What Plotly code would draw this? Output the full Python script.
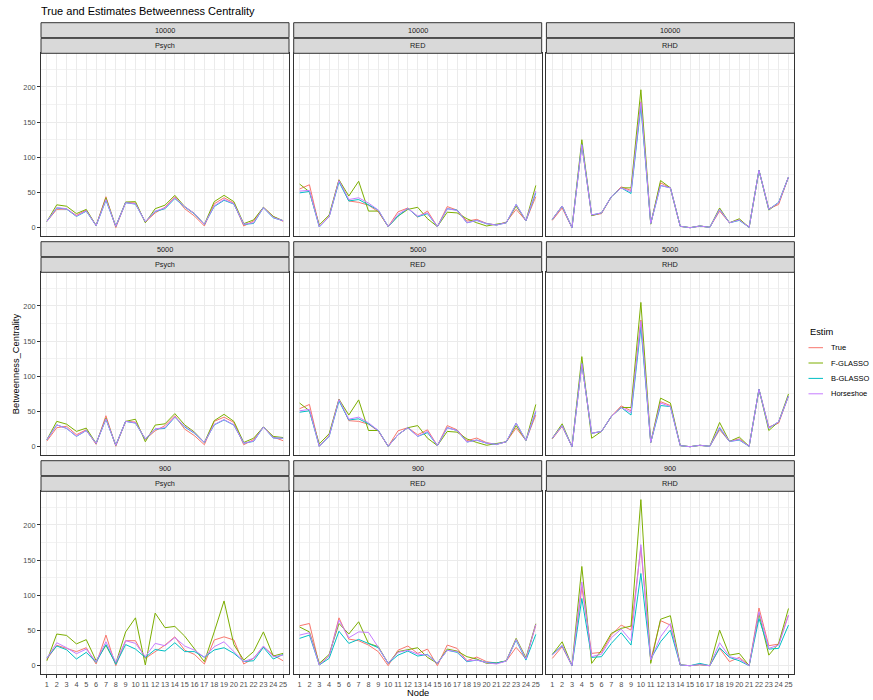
import plotly.graph_objects as go

# ---------------------------------------------------------------------------
# Data: betweenness centrality per node, for each sample size x dataset panel
# ---------------------------------------------------------------------------
nodes = list(range(1, 26))
node_labels = [str(n) for n in nodes]

estimators = ["True", "F-GLASSO", "B-GLASSO", "Horseshoe"]
estimator_colors = ["#F8766D", "#7CAE00", "#00BFC4", "#C77CFF"]

sample_sizes = ["10000", "5000", "900"]
datasets = ["Psych", "RED", "RHD"]

# ---- n = 10000 ----
psych_10000_true = [9, 26, 26.5, 17.5, 25, 3, 44, 0, 36, 35, 8, 21, 29, 44, 27, 16.5, 2.4, 34, 42.5, 35, 2.4, 9.4, 29, 16, 9]
psych_10000_fglasso = [9, 32.5, 30.5, 20, 26, 3, 42.5, 2, 36.5, 37, 7, 27, 32, 46, 30, 20, 4.7, 37, 46, 37, 5.7, 11, 29, 16, 10]
psych_10000_bglasso = [9, 28, 26.5, 16, 23.5, 3, 39, 2, 35.5, 33.5, 8.5, 23, 27, 41.5, 29.5, 19.5, 4.7, 30, 39, 33.5, 4.7, 6, 28.5, 14, 10]
psych_10000_horseshoe = [9, 28.5, 27, 16.5, 24, 3, 40, 2, 35.5, 34, 8.5, 23.5, 28, 42.5, 30, 20, 4.7, 31, 40, 34, 5, 7, 28.5, 14.5, 10]

red_10000_true = [55, 61, 1.5, 16, 68, 38, 36, 32, 22.6, 1.5, 22.6, 28, 15, 23.6, 1.5, 30, 25, 9.4, 11.8, 6.1, 3.8, 8, 26, 10, 44]
red_10000_fglasso = [62, 51, 4, 18, 68, 45, 66, 23.6, 23.6, 1.5, 16.5, 26, 29, 12.7, 1.5, 22, 21, 12.7, 7, 2.4, 5, 7, 30.7, 10, 60]
red_10000_bglasso = [49.5, 51.5, 1, 15.5, 65, 38, 40, 33, 25, 1.5, 16.5, 27.4, 15.5, 20, 1.5, 27, 25, 7, 10.4, 5.7, 3.8, 7, 33, 10, 49.5]
red_10000_horseshoe = [52, 53, 1.5, 15.5, 67, 40, 42.5, 35, 25, 1.5, 19, 27.4, 16.5, 21, 1.5, 27, 24.5, 7, 10.4, 5.7, 3.8, 7, 33, 10, 52]

rhd_10000_true = [10.4, 28, 0, 118, 17.5, 20, 44, 58, 53, 179, 6, 63.7, 56.6, 2, 0, 2.4, 0.5, 23.6, 7, 11.3, 0.5, 81.6, 27, 33, 72]
rhd_10000_fglasso = [11.8, 30.7, 0, 125, 17, 21, 44, 56.6, 56.6, 196, 5, 67, 56.6, 2, 0, 2.4, 0.5, 28, 7, 12.7, 0.5, 81.6, 25, 35.4, 72]
rhd_10000_bglasso = [11.8, 30.7, 0, 118, 18, 21, 44, 56.6, 48.6, 172, 6, 60, 56.6, 2, 0, 2.4, 0.5, 26, 7, 10.4, 0.5, 81.6, 26, 36, 72]
rhd_10000_horseshoe = [11.8, 30.7, 0, 118, 18, 21, 44, 56.6, 51, 178, 6, 60, 56.6, 2, 0, 2.4, 0.5, 26, 7, 11, 0.5, 81.6, 26, 35.4, 72]

# ---- n = 5000 ----
psych_5000_true = [8, 27, 29, 17, 24, 3.3, 44, 0.5, 36, 35, 10.4, 22.6, 30, 44, 25, 15.6, 2.8, 36, 42, 34.4, 2.8, 10, 28, 13.7, 8.5]
psych_5000_fglasso = [10, 36, 32, 21.7, 26.4, 4.7, 40.6, 2, 36, 39, 7, 30.7, 32.5, 47, 31, 20.7, 6, 37, 46, 36, 6, 12, 28, 14.6, 13]
psych_5000_bglasso = [10, 31, 26, 14.6, 23, 4.7, 39, 2, 36, 33.5, 10.8, 25, 26, 42, 28, 19, 6, 31, 38, 30.7, 5, 7.5, 28, 12.3, 12]
psych_5000_horseshoe = [10, 31, 26, 15, 23, 4.7, 39.5, 2, 36, 34, 10.8, 25.5, 27, 42.5, 29, 19.5, 6, 31.5, 38.5, 31, 5, 8, 28, 12.5, 12]

red_5000_true = [54, 60, 0.5, 16, 67.5, 37, 36, 32, 22, 0.5, 22.6, 27, 17, 24, 1.5, 30, 24, 8.5, 12.3, 5.7, 3.3, 7, 26.4, 9, 45]
red_5000_fglasso = [62, 51, 4, 18.4, 67.5, 45, 66.5, 23, 23, 0.5, 17, 27, 30, 12, 1.5, 21.7, 20.7, 11, 6, 2, 4.5, 7, 30, 9, 60]
red_5000_bglasso = [49, 51, 0.5, 14.6, 65, 38, 39.6, 32.5, 23, 0.5, 17, 27, 14.6, 20, 1.5, 27, 23, 6.6, 9.4, 5, 3.3, 7, 33.5, 9, 49.5]
red_5000_horseshoe = [51, 53, 0.5, 15, 67, 39, 42, 34, 23, 0.5, 17, 27, 14.6, 21.7, 1.5, 27, 23, 6.6, 9.4, 5, 3.3, 7, 33.5, 9, 51]

rhd_5000_true = [11, 29, 0, 118, 19, 21.7, 43, 58, 51, 180, 6, 64, 58.5, 1.5, 0, 2, 0.5, 24, 7.5, 11, 0.5, 81.6, 28, 33.5, 72]
rhd_5000_fglasso = [12, 32.5, 0, 128, 12, 21.7, 43, 55.7, 55.7, 205, 6, 69, 62, 1.5, 0, 2, 0.5, 34.4, 7.5, 13.7, 0.5, 81.6, 23, 35.4, 75]
rhd_5000_bglasso = [12, 30, 0, 118, 19, 21.7, 43, 55.7, 45, 170, 6, 58.5, 57, 1.5, 0, 2, 0.5, 26.4, 7.5, 9.4, 0.5, 81.6, 26.4, 35.4, 72]
rhd_5000_horseshoe = [12, 30, 0, 118, 19, 21.7, 43, 55.7, 48.6, 178, 6, 62, 57, 1.5, 0, 2, 0.5, 28, 7.5, 10, 0.5, 81.6, 26.4, 35.4, 72]

# ---- n = 900 ----
psych_900_true = [9, 29, 24.6, 20, 25.5, 2.4, 43.5, 0, 35.5, 35.5, 10.4, 20, 29.3, 41, 22, 16, 2.4, 36.5, 41, 36.5, 2.4, 10.5, 27, 15, 7]
psych_900_fglasso = [7, 45, 43, 31, 37, 7, 29, 3.3, 48, 68, 1, 74.7, 54, 55.8, 42, 24.6, 5.7, 48, 92, 30, 8, 20, 48, 13.7, 17.5]
psych_900_bglasso = [11, 28, 22.7, 9.5, 19, 4.7, 30, 2, 30, 23.6, 11.8, 23, 20.8, 32.6, 20, 20, 12, 22.3, 25.5, 17.6, 6, 7, 26, 9.5, 16]
psych_900_horseshoe = [10.4, 32.6, 25.5, 17, 23.6, 5.7, 34, 4.7, 35.5, 31.7, 12.8, 31.7, 28.4, 40, 28, 22, 12, 27, 34, 20, 6, 10.5, 28, 12.8, 15]

red_900_true = [56.7, 60, 1, 13.7, 68, 37.8, 35.5, 29.3, 19.9, 0, 22, 28, 17.5, 23.6, 0, 29.3, 24.6, 7, 12.3, 5.7, 3.8, 6.6, 26, 9.5, 57.7]
red_900_fglasso = [55, 48, 3.3, 16, 60, 45, 62.4, 31.7, 27, 3.3, 20, 23, 25.5, 11.8, 3.3, 23.6, 20.8, 12.8, 9.5, 3.3, 3.8, 7, 38.8, 11.3, 59.6]
red_900_bglasso = [38.8, 43.5, 1, 10.4, 49, 31.7, 37.4, 31.7, 25.5, 3.3, 15, 20.8, 13.7, 16, 3.3, 22, 19, 5.7, 8, 4.7, 3.8, 6.6, 36.4, 8, 44.4]
red_900_horseshoe = [43.5, 46.8, 1, 14, 64.8, 39.7, 48, 47.3, 26, 3.3, 19, 22, 16.5, 15, 3.3, 22, 20, 6.6, 8, 4.3, 2.4, 6.6, 37.4, 9.5, 58.6]

rhd_900_true = [10.4, 27, 0, 112, 17.5, 19, 43.5, 57.7, 50.6, 168, 8, 64, 57.7, 1, 0, 1.5, 0, 24.6, 5.7, 11.8, 0, 82, 28.4, 30.7, 72]
rhd_900_fglasso = [16, 34, 0, 141, 3.3, 22, 46, 53, 56.3, 236, 3.3, 66, 71, 1, 0, 1.5, 0, 50.6, 15, 17.5, 0, 74, 15, 31.7, 81.3]
rhd_900_bglasso = [16, 28.4, 0, 95.5, 11.8, 12.8, 31.7, 46.8, 29.3, 131, 9.5, 34, 50.6, 1, 0, 3.3, 0, 25.5, 11.8, 7, 0, 67, 23.6, 24.6, 57.7]
rhd_900_horseshoe = [15, 29, 0, 119, 12.8, 16.5, 39.7, 52, 35.5, 172, 8, 41, 60, 1, 0, 1.5, 0, 32.6, 12.8, 9.5, 0, 76.6, 24.6, 29.3, 72]

panels = {
    ("10000", "Psych"): [psych_10000_true, psych_10000_fglasso, psych_10000_bglasso, psych_10000_horseshoe],
    ("10000", "RED"): [red_10000_true, red_10000_fglasso, red_10000_bglasso, red_10000_horseshoe],
    ("10000", "RHD"): [rhd_10000_true, rhd_10000_fglasso, rhd_10000_bglasso, rhd_10000_horseshoe],
    ("5000", "Psych"): [psych_5000_true, psych_5000_fglasso, psych_5000_bglasso, psych_5000_horseshoe],
    ("5000", "RED"): [red_5000_true, red_5000_fglasso, red_5000_bglasso, red_5000_horseshoe],
    ("5000", "RHD"): [rhd_5000_true, rhd_5000_fglasso, rhd_5000_bglasso, rhd_5000_horseshoe],
    ("900", "Psych"): [psych_900_true, psych_900_fglasso, psych_900_bglasso, psych_900_horseshoe],
    ("900", "RED"): [red_900_true, red_900_fglasso, red_900_bglasso, red_900_horseshoe],
    ("900", "RHD"): [rhd_900_true, rhd_900_fglasso, rhd_900_bglasso, rhd_900_horseshoe],
}

y_ticks = [0, 50, 100, 150, 200]

# ---------------------------------------------------------------------------
# Page geometry (pixels)
# ---------------------------------------------------------------------------
W, H = 873, 700
FONT = "Liberation Sans, Arial, Helvetica, sans-serif"
col_spans = [(41.0, 289.0), (293.7, 541.7), (546.4, 794.4)]
row_tops = [22.7, 241.7, 460.7]
STRIP_H = 15.0
STRIP_GAP = 0.6
PLOT_H = 182.7


def px_x(v):
    return v / W


def px_y(v):
    return 1 - v / H


# shared y range with ggplot-style 5% expansion
all_vals = [v for series in panels.values() for s in series for v in s]
ymin, ymax = min(all_vals), max(all_vals)
pad = 0.05 * (ymax - ymin)
y_range = [ymin - pad, ymax + pad]
x_range = [1 - 0.6, len(nodes) + 0.6]

fig = go.Figure()
layout = {}
shapes = []
annotations = []

for r, size in enumerate(sample_sizes):
    top = row_tops[r]
    s1_top, s1_bot = top, top + STRIP_H
    s2_top, s2_bot = s1_bot + STRIP_GAP, s1_bot + STRIP_GAP + STRIP_H
    p_top, p_bot = s2_bot, s2_bot + PLOT_H
    for c, ds in enumerate(datasets):
        idx = r * 3 + c + 1
        xa = "xaxis" if idx == 1 else f"xaxis{idx}"
        ya = "yaxis" if idx == 1 else f"yaxis{idx}"
        xref = "x" if idx == 1 else f"x{idx}"
        yref = "y" if idx == 1 else f"y{idx}"
        x0, x1 = col_spans[c]

        bottom_row = r == len(sample_sizes) - 1
        left_col = c == 0

        layout[xa] = dict(
            domain=[px_x(x0), px_x(x1)],
            anchor=yref,
            range=x_range,
            tickmode="array",
            tickvals=nodes,
            ticktext=node_labels,
            tickangle=0,
            showticklabels=bottom_row,
            ticks="outside" if bottom_row else "",
            ticklen=3,
            tickwidth=1,
            tickcolor="#333333",
            tickfont=dict(size=7.3, color="#4D4D4D", family=FONT),
            showgrid=True,
            gridcolor="#EBEBEB",
            gridwidth=1,
            zeroline=False,
            showline=True,
            mirror=True,
            linecolor="#333333",
            linewidth=1,
            fixedrange=True,
        )
        layout[ya] = dict(
            domain=[px_y(p_bot), px_y(p_top)],
            anchor=xref,
            range=y_range,
            tickmode="array",
            tickvals=y_ticks,
            ticktext=[str(t) for t in y_ticks],
            tickangle=0,
            showticklabels=left_col,
            ticks="outside" if left_col else "",
            ticklen=3,
            tickwidth=1,
            tickcolor="#333333",
            tickfont=dict(size=7.3, color="#4D4D4D", family=FONT),
            showgrid=True,
            gridcolor="#EBEBEB",
            gridwidth=1,
            minor=dict(dtick=25, tick0=0, showgrid=True, gridcolor="#F2F2F2", gridwidth=0.6, ticks=""),
            zeroline=False,
            showline=True,
            mirror=True,
            linecolor="#333333",
            linewidth=1,
            fixedrange=True,
        )

        # strip labels: sample size on top, dataset below
        for (st, sb, label) in [(s1_top, s1_bot, size), (s2_top, s2_bot, ds)]:
            shapes.append(dict(
                type="rect", xref="paper", yref="paper",
                x0=px_x(x0), x1=px_x(x1), y0=px_y(sb), y1=px_y(st),
                fillcolor="#D9D9D9", line=dict(color="#333333", width=1), layer="above",
            ))
            annotations.append(dict(
                x=px_x((x0 + x1) / 2), y=px_y((st + sb) / 2),
                xref="paper", yref="paper", xanchor="center", yanchor="middle",
                text=label, showarrow=False,
                font=dict(size=7.3, color="#1A1A1A", family=FONT),
            ))

        for name, color, vals in zip(estimators, estimator_colors, panels[(size, ds)]):
            fig.add_trace(go.Scatter(
                x=nodes, y=vals, mode="lines", name=name,
                line=dict(color=color, width=1),
                xaxis=xref, yaxis=yref, showlegend=False,
                hovertemplate=f"{name}<br>Node %{{x}}: %{{y}}<extra>{size} / {ds}</extra>",
            ))

# axis titles
annotations.append(dict(
    x=px_x((col_spans[0][0] + col_spans[2][1]) / 2), y=px_y(692.5),
    xref="paper", yref="paper", xanchor="center", yanchor="middle",
    text="Node", showarrow=False, font=dict(size=9.3, color="#000000", family=FONT),
))
annotations.append(dict(
    x=px_x(15.5), y=px_y((row_tops[0] + 2 * STRIP_H + STRIP_GAP + 674) / 2),
    xref="paper", yref="paper", xanchor="center", yanchor="middle",
    text="Betweenness_Centrality", textangle=-90, showarrow=False,
    font=dict(size=9.3, color="#000000", family=FONT),
))

# legend
annotations.append(dict(
    x=px_x(807.5), y=px_y(332), xref="paper", yref="paper",
    xanchor="left", yanchor="middle", text="Estim", showarrow=False,
    font=dict(size=9.3, color="#000000", family=FONT),
))
legend_rows = [347.7, 363.0, 378.4, 393.8]
for name, color, ly in zip(estimators, estimator_colors, legend_rows):
    shapes.append(dict(
        type="line", xref="paper", yref="paper",
        x0=px_x(808.5), x1=px_x(823), y0=px_y(ly), y1=px_y(ly),
        line=dict(color=color, width=1),
    ))
    annotations.append(dict(
        x=px_x(829), y=px_y(ly), xref="paper", yref="paper",
        xanchor="left", yanchor="middle", text=name, showarrow=False,
        font=dict(size=7.5, color="#000000", family=FONT),
    ))

fig.update_layout(
    **layout,
    width=W, height=H,
    margin=dict(l=0, r=0, t=0, b=0),
    paper_bgcolor="white",
    plot_bgcolor="white",
    showlegend=False,
    shapes=shapes,
    annotations=annotations,
    font=dict(family=FONT),
    title=dict(
        text="True and Estimates Betweenness Centrality",
        x=px_x(41), xanchor="left", y=px_y(11), yanchor="middle",
        font=dict(size=11, color="#000000", family=FONT),
    ),
)

fig.write_html("out.html")
